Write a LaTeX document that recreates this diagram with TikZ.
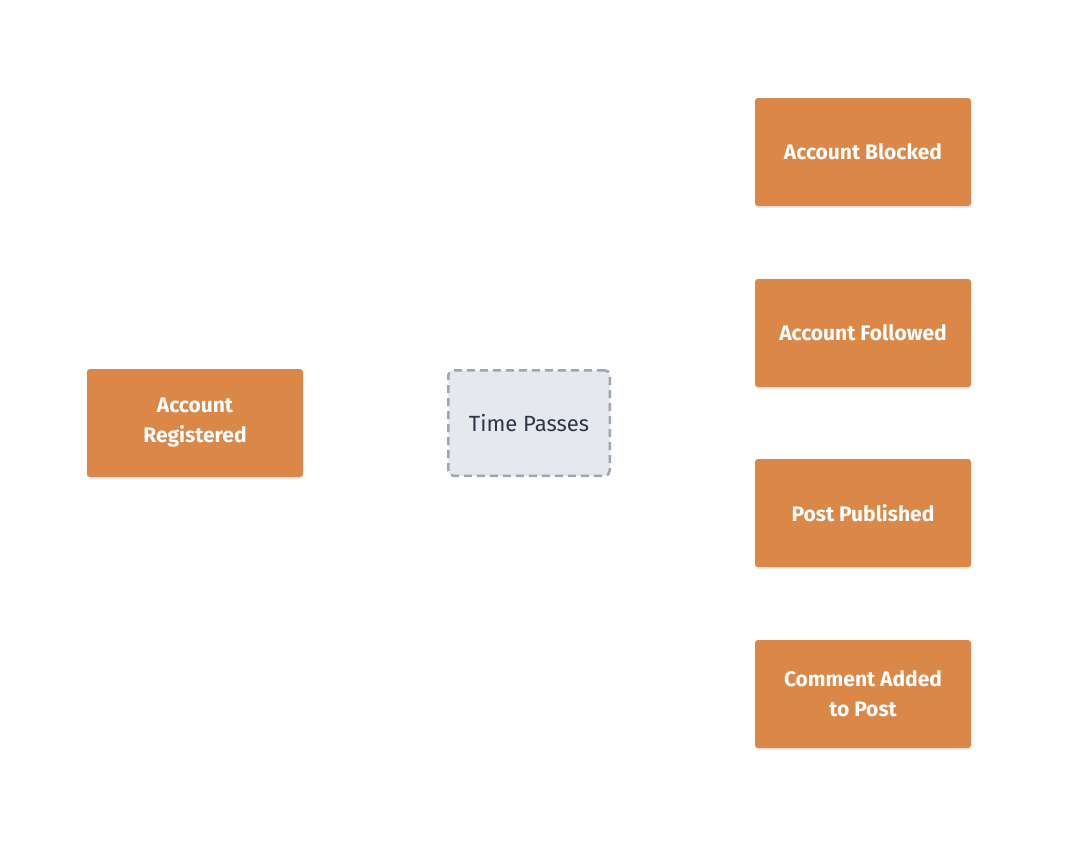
\documentclass[tikz,border=0pt]{standalone}
\usepackage{fontspec}
\setmainfont{Fira Sans}
\usepackage{xcolor}
\usetikzlibrary{positioning,shadows}

\definecolor{evtorange}{HTML}{DA8748}
\definecolor{waitfill}{HTML}{E5E8ED}
\definecolor{waitline}{HTML}{9EA6B2}
\definecolor{waittext}{HTML}{2D3748}

\tikzset{
  event/.style={rectangle, rounded corners=3pt, fill=evtorange, text=white,
    minimum width=216pt, minimum height=108pt, align=center, outer sep=0pt,
    font=\fontsize{21}{30}\selectfont\bfseries,
    drop shadow={opacity=0.15, shadow xshift=0pt, shadow yshift=-2pt}},
  wait/.style={rectangle, rounded corners=5pt, fill=waitfill, draw=waitline,
    line width=2.5pt, dash pattern=on 8pt off 5pt, text=waittext,
    minimum width=161.5pt, minimum height=105.5pt, align=center, outer sep=0pt,
    font=\fontsize{22}{30}\selectfont}
}

\begin{document}
\begin{tikzpicture}[x=1pt, y=-1pt, node distance=72pt]
    \useasboundingbox (0,0) rectangle (1084,846);
    \node (registered) [event] at (195,423) {Account\\Registered};
    \node (time) [wait, right=145.25pt of registered] {Time Passes};
    \node (published) [event, below right=-16.75pt and 145.25pt of time.south east, anchor=north west] {Post Published};
    \node (followed) [event, above=of published] {Account Followed};
    \node (blocked) [event, above=73pt of followed] {Account Blocked};
    \node (comment) [event, below=73pt of published] {Comment Added\\to Post};
\end{tikzpicture}
\end{document}
